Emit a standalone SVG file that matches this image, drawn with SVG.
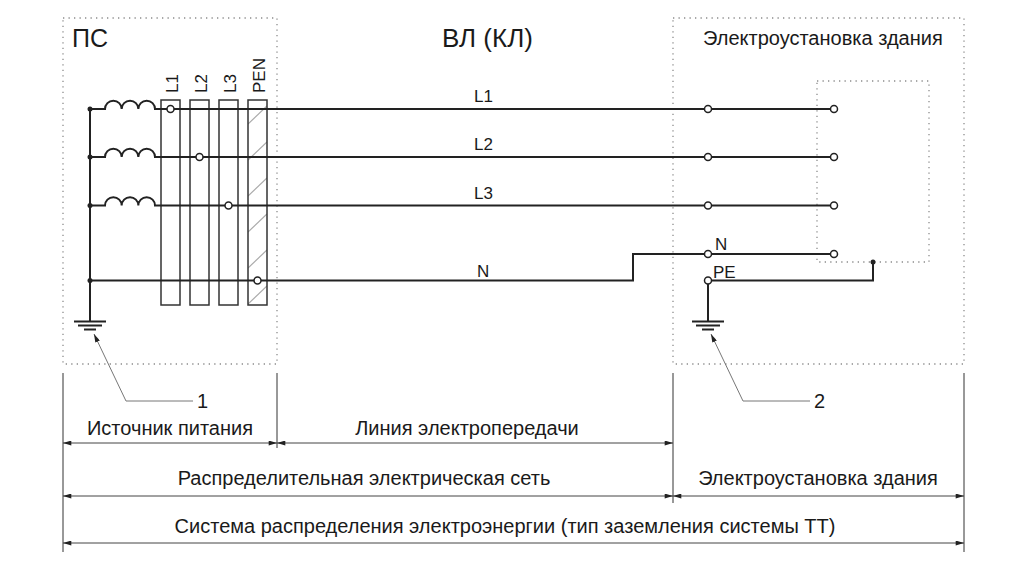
<svg xmlns="http://www.w3.org/2000/svg" width="1024" height="576" viewBox="0 0 1024 576">
<defs>
<style>
.t{font-family:"Liberation Sans",Arial,sans-serif;fill:#1a1a1a}
.w{fill:none;stroke:#222;stroke-width:2}
.bar{fill:none;stroke:#333;stroke-width:1.5}
.pen{fill:url(#hatch);stroke:#333;stroke-width:1.5}
.dotb{fill:none;stroke:#8c8c8c;stroke-width:1.3;stroke-dasharray:1.3 4.2}
.term{fill:#fff;stroke:#222;stroke-width:1.5}
.jn{fill:#222}
.ext{stroke:#333;stroke-width:1;fill:none}
.dim{stroke:#444;stroke-width:1;fill:none;marker-start:url(#ar);marker-end:url(#ar)}
.lead{stroke:#777;stroke-width:1;fill:none;marker-end:url(#la)}
.gnd{stroke:#222;stroke-width:2;fill:none}
</style>
<marker id="ar" viewBox="0 0 10 6" refX="10" refY="3" markerWidth="10" markerHeight="5" markerUnits="userSpaceOnUse" orient="auto-start-reverse"><path d="M0,0L10,3L0,6z" fill="#222"/></marker>
<marker id="la" viewBox="0 0 10 6" refX="10" refY="3" markerWidth="9" markerHeight="5" markerUnits="userSpaceOnUse" orient="auto"><path d="M0,0L10,3L0,6z" fill="#222"/></marker>
<pattern id="hatch" patternUnits="userSpaceOnUse" x="248" y="100" width="19" height="36"><path d="M0,24L19,6" stroke="#aaa" stroke-width="1.2"/></pattern>
</defs>
<rect width="1024" height="576" fill="#fff"/>

<g id="ps-box">
<rect class="dotb" x="63" y="18" width="214" height="346"/>
<text class="t" x="72" y="47" font-size="25">ПС</text>
</g>

<g id="building-box">
<rect class="dotb" x="673" y="18" width="291" height="346"/>
<text class="t" x="703" y="45" font-size="20">Электроустановка здания</text>
<rect class="dotb" x="817" y="81" width="112" height="181"/>
</g>

<text class="t" x="442" y="47" font-size="26">ВЛ (КЛ)</text>

<g id="busbars">
<rect class="bar" x="161" y="100" width="19" height="205"/>
<rect class="bar" x="190" y="100" width="19" height="205"/>
<rect class="bar" x="219" y="100" width="19" height="205"/>
<rect class="pen" x="248" y="100" width="19" height="205"/>
<text class="t" font-size="17" transform="translate(178,93) rotate(-90)">L1</text>
<text class="t" font-size="17" transform="translate(207,93) rotate(-90)">L2</text>
<text class="t" font-size="17" transform="translate(236,93) rotate(-90)">L3</text>
<text class="t" font-size="17" transform="translate(265,93) rotate(-90)">PEN</text>
</g>

<g id="connectors">
<path class="w" d="M90,109V321"/>
<path class="w" d="M90,109H105a8.33,8.33 0 0 1 16.67,0a8.33,8.33 0 0 1 16.67,0a8.33,8.33 0 0 1 16.67,0H834"/>
<path class="w" d="M90,157H105a8.33,8.33 0 0 1 16.67,0a8.33,8.33 0 0 1 16.67,0a8.33,8.33 0 0 1 16.67,0H834"/>
<path class="w" d="M90,205.5H105a8.33,8.33 0 0 1 16.67,0a8.33,8.33 0 0 1 16.67,0a8.33,8.33 0 0 1 16.67,0H834"/>
<path class="w" d="M90,280.5H633V254H834"/>
<path class="w" d="M708,280.5H873V262"/>
<path class="w" d="M708,280.5V321"/>
<path class="lead" d="M193,401H126L94,334"/>
<path class="lead" d="M810,401H743L711,334"/>
</g>

<g id="ground-1">
<path class="gnd" d="M74,321.5H106M78,325.5H102M84,329.5H96"/>
</g>
<g id="ground-2">
<path class="gnd" d="M692,321.5H724M696,325.5H720M702,329.5H714"/>
</g>

<g id="junctions">
<circle class="jn" cx="90" cy="109" r="2.5"/>
<circle class="jn" cx="90" cy="157" r="2.5"/>
<circle class="jn" cx="90" cy="205.5" r="2.5"/>
<circle class="jn" cx="90" cy="280.5" r="2.5"/>
<circle class="jn" cx="873" cy="262" r="2.5"/>
</g>

<g id="terminals">
<circle class="term" cx="170.5" cy="109" r="3.5"/>
<circle class="term" cx="199.5" cy="157" r="3.5"/>
<circle class="term" cx="228.5" cy="205.5" r="3.5"/>
<circle class="term" cx="257.5" cy="280.5" r="3.5"/>
<circle class="term" cx="708" cy="109" r="3.5"/>
<circle class="term" cx="708" cy="157" r="3.5"/>
<circle class="term" cx="708" cy="205.5" r="3.5"/>
<circle class="term" cx="708" cy="254" r="3.5"/>
<circle class="term" cx="708" cy="280.5" r="3.5"/>
<circle class="term" cx="834" cy="109" r="3.5"/>
<circle class="term" cx="834" cy="157" r="3.5"/>
<circle class="term" cx="834" cy="205.5" r="3.5"/>
<circle class="term" cx="834" cy="254" r="3.5"/>
</g>

<g id="line-labels">
<text class="t" x="474" y="101.5" font-size="17">L1</text>
<text class="t" x="474" y="150" font-size="17">L2</text>
<text class="t" x="474" y="199" font-size="17">L3</text>
<text class="t" x="477" y="276.5" font-size="17">N</text>
<text class="t" x="715" y="250" font-size="17">N</text>
<text class="t" x="713" y="278" font-size="17">PE</text>
<text class="t" x="197" y="408" font-size="20">1</text>
<text class="t" x="814" y="408" font-size="20">2</text>
</g>

<g id="dimensions">
<path class="ext" d="M63,373V552M277,373V448M673,373V503M964,373V552"/>
<path class="dim" d="M63,443H277"/>
<path class="dim" d="M277,443H673"/>
<path class="dim" d="M63,496H673"/>
<path class="dim" d="M673,496H964"/>
<path class="dim" d="M63,543H964"/>
<text class="t" x="170" y="435" font-size="20" text-anchor="middle">Источник питания</text>
<text class="t" x="467" y="435" font-size="20" text-anchor="middle">Линия электропередачи</text>
<text class="t" x="364" y="485" font-size="20" text-anchor="middle">Распределительная электрическая сеть</text>
<text class="t" x="818" y="485" font-size="20" text-anchor="middle">Электроустановка здания</text>
<text class="t" x="505" y="533" font-size="20" text-anchor="middle">Система распределения электроэнергии (тип заземления системы ТТ)</text>
</g>
</svg>
